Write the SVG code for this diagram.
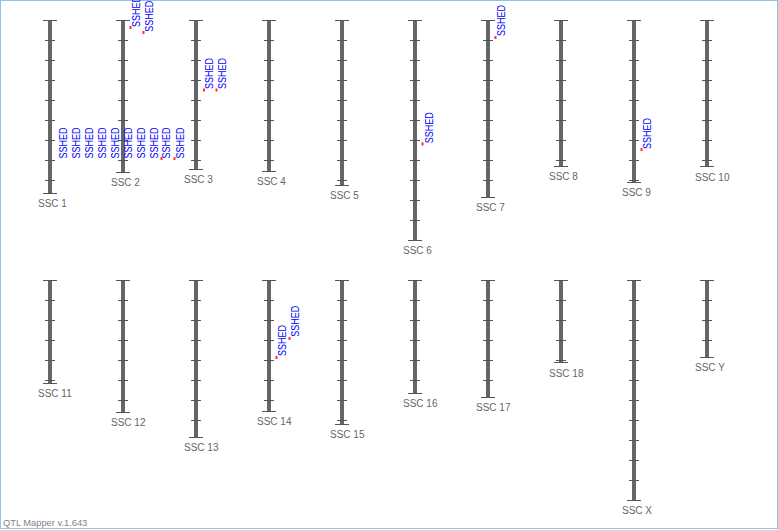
<svg xmlns="http://www.w3.org/2000/svg" width="778" height="530" viewBox="0 0 778 530">
<style>
.bar{fill:#666}
.tk{stroke:#555;stroke-width:1;fill:none}
.lbl{font-family:"Liberation Sans",Arial,sans-serif;font-size:10px;fill:#666}
.q{font-family:"Liberation Sans",Arial,sans-serif;font-size:10px;fill:#0000ff}
.dot{fill:#ff3030}
</style>
<rect x="0.5" y="0.5" width="777" height="528" fill="#fff" stroke="#8ec3ea"/>
<g id="chromosomes">
<g id="ssc1"><rect class="bar" x="48" y="20" width="4" height="173"/><path class="tk" d="M43 20.5h14M45 40.5h10M45 60.5h10M45 80.5h10M45 100.5h10M45 120.5h10M45 140.5h10M45 160.5h10M45 180.5h10M43 193.5h14"/><text class="lbl" x="38" y="207">SSC 1</text></g>
<g id="ssc2"><rect class="bar" x="121" y="20" width="4" height="152"/><path class="tk" d="M116 20.5h14M118 40.5h10M118 60.5h10M118 80.5h10M118 100.5h10M118 120.5h10M118 140.5h10M118 160.5h10M116 172.5h14"/><text class="lbl" x="111" y="186">SSC 2</text></g>
<g id="ssc3"><rect class="bar" x="194" y="20" width="4" height="149"/><path class="tk" d="M189 20.5h14M191 40.5h10M191 60.5h10M191 80.5h10M191 100.5h10M191 120.5h10M191 140.5h10M191 160.5h10M189 169.5h14"/><text class="lbl" x="184" y="183">SSC 3</text></g>
<g id="ssc4"><rect class="bar" x="267" y="20" width="4" height="151"/><path class="tk" d="M262 20.5h14M264 40.5h10M264 60.5h10M264 80.5h10M264 100.5h10M264 120.5h10M264 140.5h10M264 160.5h10M262 171.5h14"/><text class="lbl" x="257" y="185">SSC 4</text></g>
<g id="ssc5"><rect class="bar" x="340" y="20" width="4" height="165"/><path class="tk" d="M335 20.5h14M337 40.5h10M337 60.5h10M337 80.5h10M337 100.5h10M337 120.5h10M337 140.5h10M337 160.5h10M337 180.5h10M335 185.5h14"/><text class="lbl" x="330" y="199">SSC 5</text></g>
<g id="ssc6"><rect class="bar" x="413" y="20" width="4" height="220"/><path class="tk" d="M408 20.5h14M410 40.5h10M410 60.5h10M410 80.5h10M410 100.5h10M410 120.5h10M410 140.5h10M410 160.5h10M410 180.5h10M410 200.5h10M410 220.5h10M408 240.5h14"/><text class="lbl" x="403" y="254">SSC 6</text></g>
<g id="ssc7"><rect class="bar" x="486" y="20" width="4" height="177"/><path class="tk" d="M481 20.5h14M483 40.5h10M483 60.5h10M483 80.5h10M483 100.5h10M483 120.5h10M483 140.5h10M483 160.5h10M483 180.5h10M481 197.5h14"/><text class="lbl" x="476" y="211">SSC 7</text></g>
<g id="ssc8"><rect class="bar" x="559" y="20" width="4" height="146"/><path class="tk" d="M554 20.5h14M556 40.5h10M556 60.5h10M556 80.5h10M556 100.5h10M556 120.5h10M556 140.5h10M556 160.5h10M554 166.5h14"/><text class="lbl" x="549" y="180">SSC 8</text></g>
<g id="ssc9"><rect class="bar" x="632" y="20" width="4" height="162"/><path class="tk" d="M627 20.5h14M629 40.5h10M629 60.5h10M629 80.5h10M629 100.5h10M629 120.5h10M629 140.5h10M629 160.5h10M629 180.5h10M627 182.5h14"/><text class="lbl" x="622" y="196">SSC 9</text></g>
<g id="ssc10"><rect class="bar" x="705" y="20" width="4" height="146"/><path class="tk" d="M700 20.5h14M702 40.5h10M702 60.5h10M702 80.5h10M702 100.5h10M702 120.5h10M702 140.5h10M702 160.5h10M700 166.5h14"/><text class="lbl" x="695" y="181">SSC 10</text></g>
<g id="ssc11"><rect class="bar" x="48" y="280" width="4" height="103"/><path class="tk" d="M43 280.5h14M45 300.5h10M45 320.5h10M45 340.5h10M45 360.5h10M45 380.5h10M43 383.5h14"/><text class="lbl" x="38" y="397">SSC 11</text></g>
<g id="ssc12"><rect class="bar" x="121" y="280" width="4" height="132"/><path class="tk" d="M116 280.5h14M118 300.5h10M118 320.5h10M118 340.5h10M118 360.5h10M118 380.5h10M118 400.5h10M116 412.5h14"/><text class="lbl" x="111" y="426">SSC 12</text></g>
<g id="ssc13"><rect class="bar" x="194" y="280" width="4" height="157"/><path class="tk" d="M189 280.5h14M191 300.5h10M191 320.5h10M191 340.5h10M191 360.5h10M191 380.5h10M191 400.5h10M191 420.5h10M189 437.5h14"/><text class="lbl" x="184" y="451">SSC 13</text></g>
<g id="ssc14"><rect class="bar" x="267" y="280" width="4" height="131"/><path class="tk" d="M262 280.5h14M264 300.5h10M264 320.5h10M264 340.5h10M264 360.5h10M264 380.5h10M264 400.5h10M262 411.5h14"/><text class="lbl" x="257" y="425">SSC 14</text></g>
<g id="ssc15"><rect class="bar" x="340" y="280" width="4" height="144"/><path class="tk" d="M335 280.5h14M337 300.5h10M337 320.5h10M337 340.5h10M337 360.5h10M337 380.5h10M337 400.5h10M337 420.5h10M335 424.5h14"/><text class="lbl" x="330" y="438">SSC 15</text></g>
<g id="ssc16"><rect class="bar" x="413" y="280" width="4" height="113"/><path class="tk" d="M408 280.5h14M410 300.5h10M410 320.5h10M410 340.5h10M410 360.5h10M410 380.5h10M408 393.5h14"/><text class="lbl" x="403" y="407">SSC 16</text></g>
<g id="ssc17"><rect class="bar" x="486" y="280" width="4" height="117"/><path class="tk" d="M481 280.5h14M483 300.5h10M483 320.5h10M483 340.5h10M483 360.5h10M483 380.5h10M481 397.5h14"/><text class="lbl" x="476" y="411">SSC 17</text></g>
<g id="ssc18"><rect class="bar" x="559" y="280" width="4" height="82"/><path class="tk" d="M554 280.5h14M556 300.5h10M556 320.5h10M556 340.5h10M556 360.5h10M554 362.5h14"/><text class="lbl" x="549" y="377">SSC 18</text></g>
<g id="sscX"><rect class="bar" x="632" y="280" width="4" height="220"/><path class="tk" d="M627 280.5h14M629 300.5h10M629 320.5h10M629 340.5h10M629 360.5h10M629 380.5h10M629 400.5h10M629 420.5h10M629 440.5h10M629 460.5h10M629 480.5h10M627 500.5h14"/><text class="lbl" x="622" y="514">SSC X</text></g>
<g id="sscY"><rect class="bar" x="705" y="280" width="4" height="77"/><path class="tk" d="M700 280.5h14M702 300.5h10M702 320.5h10M702 340.5h10M700 357.5h14"/><text class="lbl" x="695" y="371">SSC Y</text></g>
</g>
<g id="qtl">
<text class="q" textLength="31" lengthAdjust="spacingAndGlyphs" transform="translate(67,158.5) rotate(-90)">SSHED</text>
<text class="q" textLength="31" lengthAdjust="spacingAndGlyphs" transform="translate(80,158.5) rotate(-90)">SSHED</text>
<text class="q" textLength="31" lengthAdjust="spacingAndGlyphs" transform="translate(93,158.5) rotate(-90)">SSHED</text>
<text class="q" textLength="31" lengthAdjust="spacingAndGlyphs" transform="translate(105.6,158.5) rotate(-90)">SSHED</text>
<text class="q" textLength="31" lengthAdjust="spacingAndGlyphs" transform="translate(118.6,158.5) rotate(-90)">SSHED</text>
<text class="q" textLength="31" lengthAdjust="spacingAndGlyphs" transform="translate(131.6,158.5) rotate(-90)">SSHED</text>
<text class="q" textLength="31" lengthAdjust="spacingAndGlyphs" transform="translate(144.6,158.5) rotate(-90)">SSHED</text>
<text class="q" textLength="31" lengthAdjust="spacingAndGlyphs" transform="translate(157.6,158.5) rotate(-90)">SSHED</text>
<rect class="dot" x="160.5" y="157" width="2" height="3"/>
<text class="q" textLength="31" lengthAdjust="spacingAndGlyphs" transform="translate(170.4,158.5) rotate(-90)">SSHED</text>
<rect class="dot" x="173.5" y="157" width="2" height="3"/>
<text class="q" textLength="31" lengthAdjust="spacingAndGlyphs" transform="translate(184,158.5) rotate(-90)">SSHED</text>
<rect class="dot" x="129.5" y="26" width="2" height="3"/>
<text class="q" textLength="31" lengthAdjust="spacingAndGlyphs" transform="translate(140.3,27) rotate(-90)">SSHED</text>
<rect class="dot" x="142.5" y="31" width="2" height="3"/>
<text class="q" textLength="31" lengthAdjust="spacingAndGlyphs" transform="translate(152.9,31.7) rotate(-90)">SSHED</text>
<rect class="dot" x="203" y="88.5" width="2" height="3"/>
<text class="q" textLength="31" lengthAdjust="spacingAndGlyphs" transform="translate(212.9,89) rotate(-90)">SSHED</text>
<rect class="dot" x="215.5" y="88.5" width="2" height="3"/>
<text class="q" textLength="31" lengthAdjust="spacingAndGlyphs" transform="translate(225.9,89) rotate(-90)">SSHED</text>
<rect class="dot" x="421.5" y="142.5" width="2" height="3"/>
<text class="q" textLength="31" lengthAdjust="spacingAndGlyphs" transform="translate(432.6,143.3) rotate(-90)">SSHED</text>
<rect class="dot" x="494.5" y="36" width="2" height="3"/>
<text class="q" textLength="31" lengthAdjust="spacingAndGlyphs" transform="translate(504.6,36) rotate(-90)">SSHED</text>
<rect class="dot" x="640.5" y="148" width="2" height="3"/>
<text class="q" textLength="31" lengthAdjust="spacingAndGlyphs" transform="translate(650.9,149) rotate(-90)">SSHED</text>
<rect class="dot" x="275.5" y="356" width="2" height="3"/>
<text class="q" textLength="31" lengthAdjust="spacingAndGlyphs" transform="translate(285.9,356) rotate(-90)">SSHED</text>
<rect class="dot" x="288.5" y="337" width="2" height="3"/>
<text class="q" textLength="31" lengthAdjust="spacingAndGlyphs" transform="translate(299.3,336.7) rotate(-90)">SSHED</text>
</g>
<text x="3" y="526" style="font-family:'Liberation Sans',Arial,sans-serif;font-size:9.3px;fill:#7a8490">QTL Mapper v.1.643</text>
</svg>
